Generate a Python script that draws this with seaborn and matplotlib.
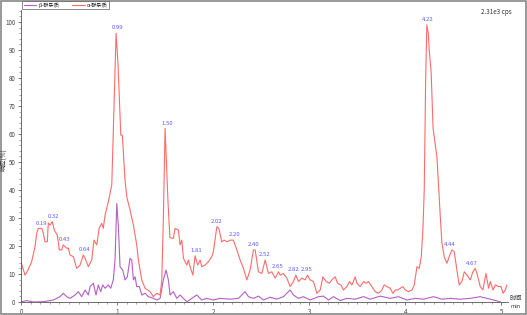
import numpy as np
import pandas as pd
import matplotlib
matplotlib.use("Agg")
import matplotlib.pyplot as plt
import seaborn as sns
from matplotlib.ticker import MultipleLocator
from matplotlib.patches import Rectangle
from matplotlib.lines import Line2D

sns.set_style("ticks")
plt.rcParams['font.family'] = ['Noto Sans CJK SC', 'DejaVu Sans']

series_names = ["β-群杂质", "α-群杂质"]

red_t = [0.0, 0.042, 0.073, 0.111, 0.146, 0.164, 0.18, 0.216, 0.232, 0.25, 0.274, 0.284, 0.302, 0.326,
         0.347, 0.365, 0.378, 0.399, 0.424, 0.44, 0.476, 0.493, 0.51, 0.545, 0.58, 0.615, 0.649, 0.667,
         0.701, 0.736, 0.76, 0.789, 0.813, 0.841, 0.857, 0.875, 0.909, 0.945, 0.969, 0.99, 1.01, 1.039,
         1.055, 1.083, 1.101, 1.135, 1.17, 1.205, 1.222, 1.257, 1.292, 1.344, 1.378, 1.414, 1.448, 1.466,
         1.482, 1.5, 1.53, 1.55, 1.586, 1.604, 1.639, 1.656, 1.674, 1.691, 1.726, 1.743, 1.76, 1.789,
         1.812, 1.84, 1.865, 1.882, 1.917, 1.951, 1.986, 2.003, 2.039, 2.06, 2.09, 2.115, 2.143, 2.177,
         2.211, 2.247, 2.281, 2.316, 2.351, 2.385, 2.42, 2.4375, 2.472, 2.507, 2.542, 2.576, 2.611, 2.646,
         2.68, 2.698, 2.732, 2.768, 2.802, 2.836, 2.861, 2.889, 2.924, 2.958, 2.982, 3.01, 3.045, 3.08,
         3.115, 3.143, 3.177, 3.211, 3.236, 3.271, 3.295, 3.33, 3.357, 3.393, 3.42, 3.445, 3.479, 3.497,
         3.531, 3.566, 3.594, 3.618, 3.653, 3.688, 3.722, 3.757, 3.781, 3.809, 3.844, 3.872, 3.896, 3.92,
         3.948, 3.976, 4.0, 4.034, 4.07, 4.094, 4.122, 4.146, 4.167, 4.184, 4.198, 4.213, 4.225, 4.24,
         4.25, 4.27, 4.29, 4.33, 4.365, 4.382, 4.406, 4.434, 4.458, 4.486, 4.51, 4.538, 4.562, 4.59,
         4.615, 4.643, 4.677, 4.705, 4.729, 4.747, 4.781, 4.809, 4.84, 4.868, 4.885, 4.914, 4.938, 4.972,
         4.997, 5.018, 5.042, 5.059]
red_v = [14.3, 9.6, 11.4, 14.4, 19.8, 24.6, 26.3, 26.3, 24.6, 21.5, 21.5, 28.2, 27.5, 28.7,
         25.7, 24.6, 23.9, 18.6, 18.6, 20.4, 19.2, 19.2, 16.8, 16.2, 12.0, 13.2, 16.8, 15.6,
         12.6, 15.0, 22.1, 20.4, 26.3, 28.1, 26.3, 31.0, 35.8, 41.8, 70.0, 96.0, 85.0, 59.6,
         59.6, 43.6, 37.6, 32.9, 27.5, 20.4, 15.0, 7.9, 4.9, 3.7, 1.9, 3.1, 2.5, 7.9,
         30.0, 62.0, 36.0, 23.0, 22.7, 26.3, 25.7, 20.4, 22.1, 15.6, 13.2, 15.0, 12.6, 9.6,
         16.5, 13.2, 15.0, 12.6, 13.2, 14.4, 16.2, 18.0, 26.9, 26.3, 21.5, 22.1, 21.5, 22.1,
         22.1, 18.6, 15.0, 12.0, 7.9, 11.4, 18.6, 18.6, 10.8, 10.2, 15.0, 10.2, 10.8, 8.5,
         10.8, 9.6, 10.2, 8.5, 5.5, 7.3, 9.6, 7.3, 8.5, 7.9, 9.6, 7.9, 7.3, 3.1,
         4.3, 9.0, 7.3, 6.7, 7.9, 9.0, 6.7, 6.1, 4.3, 5.5, 7.3, 6.1, 9.0, 6.7,
         5.5, 7.3, 6.7, 7.3, 5.5, 3.7, 3.1, 4.3, 6.1, 5.5, 4.9, 3.1, 4.3, 4.3,
         4.9, 5.5, 4.3, 3.7, 4.3, 6.1, 12.6, 12.0, 16.2, 25.7, 40.0, 80.0, 99.0, 96.0,
         90.0, 82.0, 62.0, 51.9, 30.5, 21.0, 16.2, 13.8, 16.2, 18.6, 18.0, 11.4, 6.1, 7.3,
         10.8, 9.6, 7.9, 10.8, 12.0, 10.2, 5.5, 4.3, 10.2, 4.9, 7.3, 4.3, 6.1, 5.5,
         5.5, 3.1, 4.3, 6.1]

purple_t = [0.0, 0.06, 0.128, 0.232, 0.336, 0.406, 0.44, 0.476, 0.51, 0.5625, 0.597, 0.632, 0.667,
            0.701, 0.719, 0.753, 0.781, 0.805, 0.83, 0.851, 0.875, 0.909, 0.934, 0.961, 0.979, 0.997,
            1.014, 1.031, 1.059, 1.083, 1.107, 1.135, 1.153, 1.17, 1.1875, 1.205, 1.232, 1.257, 1.292,
            1.326, 1.378, 1.414, 1.448, 1.482, 1.51, 1.534, 1.552, 1.586, 1.622, 1.656, 1.726, 1.778,
            1.83, 1.882, 1.934, 2.003, 2.073, 2.177, 2.264, 2.333, 2.368, 2.42, 2.472, 2.524, 2.594,
            2.663, 2.732, 2.802, 2.836, 2.889, 2.94, 3.01, 3.097, 3.149, 3.201, 3.253, 3.323, 3.393,
            3.479, 3.566, 3.635, 3.74, 3.844, 3.93, 4.018, 4.104, 4.19, 4.295, 4.382, 4.469, 4.573,
            4.677, 4.781, 4.851, 4.92, 4.99]
purple_v = [0.0, 0.5, 0.0, 0.1, 0.7, 1.9, 3.1, 1.9, 1.3, 2.5, 3.7, 1.9, 4.3,
            2.5, 5.5, 6.7, 2.5, 6.1, 3.7, 6.1, 4.9, 6.1, 4.9, 7.9, 15.0, 35.2,
            26.9, 12.6, 11.4, 7.9, 9.0, 15.6, 15.0, 7.9, 9.0, 5.5, 5.5, 2.5, 3.1,
            1.9, 1.3, 0.7, 1.3, 7.9, 11.4, 7.9, 2.5, 3.7, 1.3, 2.5, 0.1, 1.3,
            2.5, 0.7, 1.3, 0.7, 1.3, 1.0, 1.3, 3.7, 1.9, 1.3, 2.1, 0.7, 1.7,
            1.0, 1.9, 4.3, 2.5, 1.3, 1.9, 0.7, 1.9, 2.1, 0.7, 1.9, 0.5, 1.3,
            1.0, 1.9, 1.0, 2.1, 1.3, 1.9, 0.7, 1.3, 1.0, 1.9, 1.0, 1.3, 1.0,
            1.3, 1.9, 1.3, 0.7, 0.1]

peak_labels = ["0.19", "0.32", "0.43", "0.64", "0.99", "1.50", "1.81", "2.02", "2.20", "2.40",
               "2.52", "2.65", "2.82", "2.95", "4.22", "4.44", "4.67"]

x_ticks = [0, 1, 2, 3, 4, 5]
y_ticks = [0, 10, 20, 30, 40, 50, 60, 70, 80, 90, 100]

purple_c = "#b35fc4"
red_c = "#ff6b6b"
label_c = "#5a5aff"

df = pd.concat([
    pd.DataFrame({"t": purple_t, "v": purple_v, "s": series_names[0]}),
    pd.DataFrame({"t": red_t, "v": red_v, "s": series_names[1]}),
])

fig = plt.figure(figsize=(5.27, 3.15), dpi=100)
ax = fig.add_axes([21 / 527, 13 / 315, (508 - 21) / 527, (302 - 10) / 315])
sns.lineplot(data=df, x="t", y="v", hue="s", palette=[purple_c, red_c], estimator=None,
             sort=False, linewidth=0.8, ax=ax, legend=False)

ax.set_xlim(0, 5.07)
ax.set_ylim(0, 104.3)
ax.set_xticks(x_ticks)
ax.set_yticks(y_ticks)
ax.xaxis.set_minor_locator(MultipleLocator(0.1))
ax.yaxis.set_minor_locator(MultipleLocator(2))
ax.tick_params(axis="both", which="major", labelsize=4.5, length=2.5, width=0.5, colors="#444444", pad=1.5)
ax.tick_params(axis="both", which="minor", length=1.2, width=0.4, colors="#666666")
for sp in ["top", "right"]:
    ax.spines[sp].set_visible(False)
for sp in ["left", "bottom"]:
    ax.spines[sp].set_linewidth(0.6)
    ax.spines[sp].set_color("#555555")
ax.set_xlabel("")
ax.set_ylabel("")

# peak labels
rt = np.array(red_t)
rv = np.array(red_v)
for lab in peak_labels:
    t0 = float(lab)
    m = (rt >= t0 - 0.03) & (rt <= t0 + 0.06)
    top = rv[m].max()
    ax.text(t0 + 0.02, top + 1.0, lab, color=label_c, fontsize=4.3, ha="center", va="bottom")

fig.text(4 / 527, 1 - 160 / 315, "响应(%)", rotation=90, fontsize=4.5, ha="center", va="center", color="#333333")
fig.text(512 / 527, 1 - 12 / 315, "2.31e3 cps", fontsize=4.5, ha="right", va="center", color="#333333")
fig.text(516 / 527, 1 - 298 / 315, "时间", fontsize=4.5, ha="center", va="center", color="#333333")
fig.text(516 / 527, 1 - 306 / 315, "min", fontsize=4.0, ha="center", va="center", color="#333333")

handles = [Line2D([0], [0], color=purple_c, lw=0.8), Line2D([0], [0], color=red_c, lw=0.8)]
leg = fig.legend(handles, series_names, loc="upper left", bbox_to_anchor=(22 / 527, 1 - 1 / 315),
                 ncol=2, fontsize=3.8, frameon=True, fancybox=False, handlelength=2.4,
                 borderpad=0.3, columnspacing=2.4, handletextpad=0.4, borderaxespad=0)
leg.get_frame().set_edgecolor("#555555")
leg.get_frame().set_linewidth(0.6)

fig.patches.append(Rectangle((0.001, 0.002), 0.997, 0.996, transform=fig.transFigure,
                             fill=False, edgecolor="#888888", linewidth=1.2))

fig.savefig("out.png", dpi=100)
